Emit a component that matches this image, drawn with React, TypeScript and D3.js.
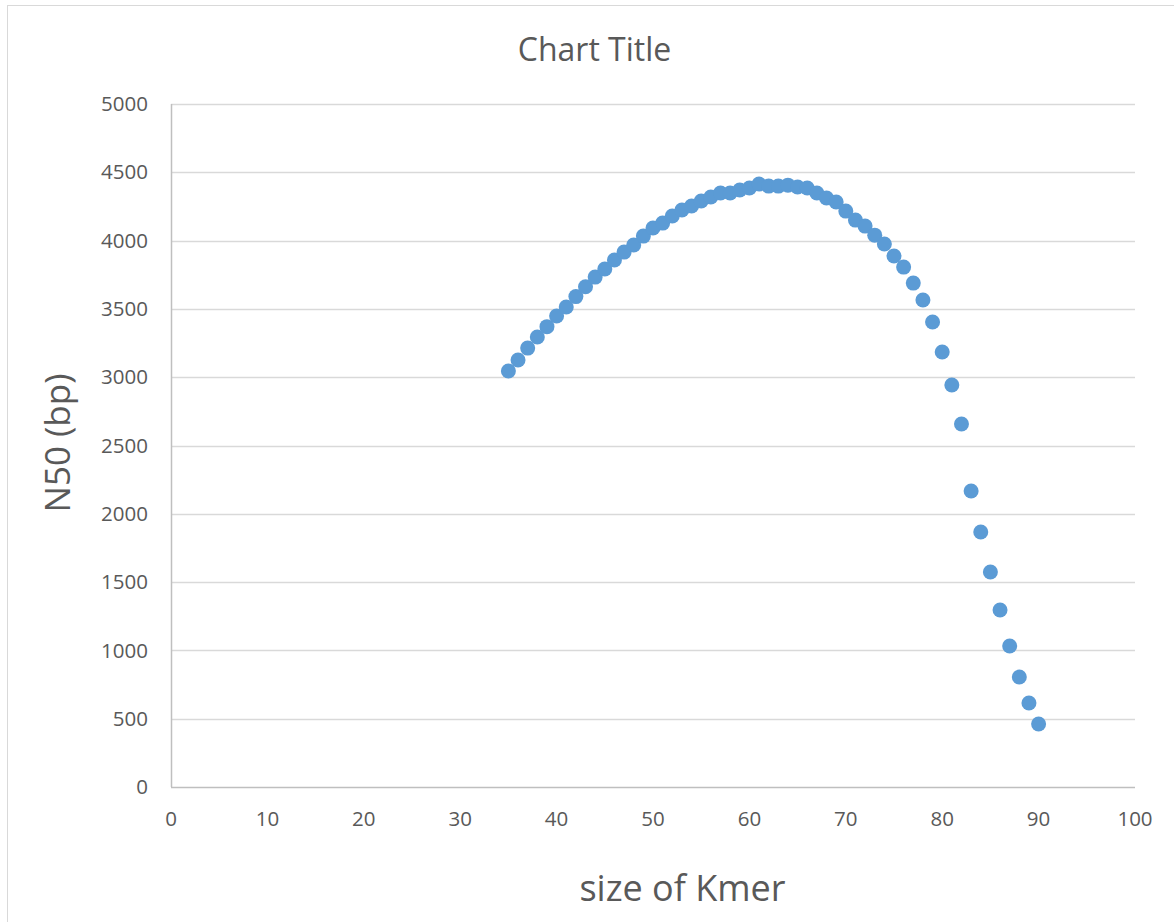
import { useEffect, useRef } from 'react';
import * as d3 from 'd3';

// kmer sizes and N50 values
const kmers = [
  35, 36, 37, 38, 39, 40, 41, 42, 43, 44, 45, 46, 47, 48, 49, 50, 51, 52, 53, 54,
  55, 56, 57, 58, 59, 60, 61, 62, 63, 64, 65, 66, 67, 68, 69, 70, 71, 72, 73, 74,
  75, 76, 77, 78, 79, 80, 81, 82, 83, 84, 85, 86, 87, 88, 89, 90,
];
const n50 = [
  3045, 3126, 3213, 3294, 3370, 3448, 3514, 3590, 3662, 3733, 3792, 3858, 3916, 3968, 4033, 4092, 4128, 4180, 4224, 4253,
  4290, 4319, 4348, 4348, 4370, 4385, 4414, 4399, 4399, 4406, 4392, 4385, 4348, 4312, 4283, 4216, 4150, 4106, 4040, 3975,
  3887, 3806, 3689, 3565, 3404, 3184, 2943, 2657, 2167, 1867, 1574, 1296, 1032, 805, 615, 461,
];
const xTicks = [0, 10, 20, 30, 40, 50, 60, 70, 80, 90, 100];
const yTicks = [0, 500, 1000, 1500, 2000, 2500, 3000, 3500, 4000, 4500, 5000];

const App = () => {
  const ref = useRef<SVGSVGElement>(null);

  useEffect(() => {
    const svg = d3.select(ref.current);
    svg.selectAll('*').remove();

    const width = 1174;
    const height = 922;
    const margin = { top: 104, right: 39, bottom: 135, left: 171 };
    const font = '"Open Sans", "Noto Sans", sans-serif';
    const grey = '#595959';

    svg.append('rect')
      .attr('width', width)
      .attr('height', height)
      .attr('fill', '#fff');

    // chart area border (right and bottom run off the picture)
    svg.append('rect')
      .attr('x', 7.5)
      .attr('y', 5.5)
      .attr('width', width + 20)
      .attr('height', height + 20)
      .attr('fill', 'none')
      .attr('stroke', '#d9d9d9');

    const x = d3.scaleLinear()
      .domain([0, 100])
      .range([margin.left, width - margin.right]);

    const y = d3.scaleLinear()
      .domain([0, 5000])
      .range([height - margin.bottom, margin.top]);

    // gridlines
    svg.append('g')
      .selectAll('line')
      .data(yTicks.filter((d) => d > 0))
      .join('line')
      .attr('x1', x(0))
      .attr('x2', x(100))
      .attr('y1', (d) => Math.round(y(d)) + 0.5)
      .attr('y2', (d) => Math.round(y(d)) + 0.5)
      .attr('stroke', '#d9d9d9')
      .attr('stroke-width', 1.5);

    // axis lines
    svg.append('line')
      .attr('x1', x(0))
      .attr('x2', x(100))
      .attr('y1', Math.round(y(0)) + 0.5)
      .attr('y2', Math.round(y(0)) + 0.5)
      .attr('stroke', '#bfbfbf')
      .attr('stroke-width', 1.5);

    svg.append('line')
      .attr('x1', Math.round(x(0)) + 0.5)
      .attr('x2', Math.round(x(0)) + 0.5)
      .attr('y1', y(0))
      .attr('y2', y(5000))
      .attr('stroke', '#bfbfbf')
      .attr('stroke-width', 1.5);

    // tick labels
    svg.append('g')
      .selectAll('text')
      .data(yTicks)
      .join('text')
      .attr('x', 148)
      .attr('y', (d) => y(d))
      .attr('dy', '0.35em')
      .attr('text-anchor', 'end')
      .attr('font-family', font)
      .attr('font-size', 20.5)
      .attr('fill', grey)
      .text((d) => d);

    svg.append('g')
      .selectAll('text')
      .data(xTicks)
      .join('text')
      .attr('x', (d) => x(d))
      .attr('y', 818.5)
      .attr('dy', '0.35em')
      .attr('text-anchor', 'middle')
      .attr('font-family', font)
      .attr('font-size', 20.5)
      .attr('fill', grey)
      .text((d) => d);

    // points
    svg.append('g')
      .attr('fill', '#5b9bd5')
      .selectAll('circle')
      .data(kmers.map((k, i) => ({ k, v: n50[i] })))
      .join('circle')
      .attr('cx', (d) => x(d.k))
      .attr('cy', (d) => y(d.v))
      .attr('r', 7.5);

    // titles
    svg.append('text')
      .attr('x', 594.5)
      .attr('y', 49.5)
      .attr('dy', '0.35em')
      .attr('text-anchor', 'middle')
      .attr('font-family', font)
      .attr('font-size', 32)
      .attr('fill', grey)
      .text('Chart Title');

    svg.append('text')
      .attr('transform', 'translate(58,443) rotate(-90)')
      .attr('dy', '0.35em')
      .attr('text-anchor', 'middle')
      .attr('font-family', font)
      .attr('font-size', 35)
      .attr('fill', grey)
      .text('N50 (bp)');

    svg.append('text')
      .attr('x', 682.5)
      .attr('y', 888)
      .attr('dy', '0.35em')
      .attr('text-anchor', 'middle')
      .attr('font-family', font)
      .attr('font-size', 36)
      .attr('fill', grey)
      .text('size of Kmer');
  }, []);

  return (
    <svg
      ref={ref}
      width={1174}
      height={922}
      style={{ position: 'absolute', left: 0, top: 0 }}
    />
  );
};

export default App;
